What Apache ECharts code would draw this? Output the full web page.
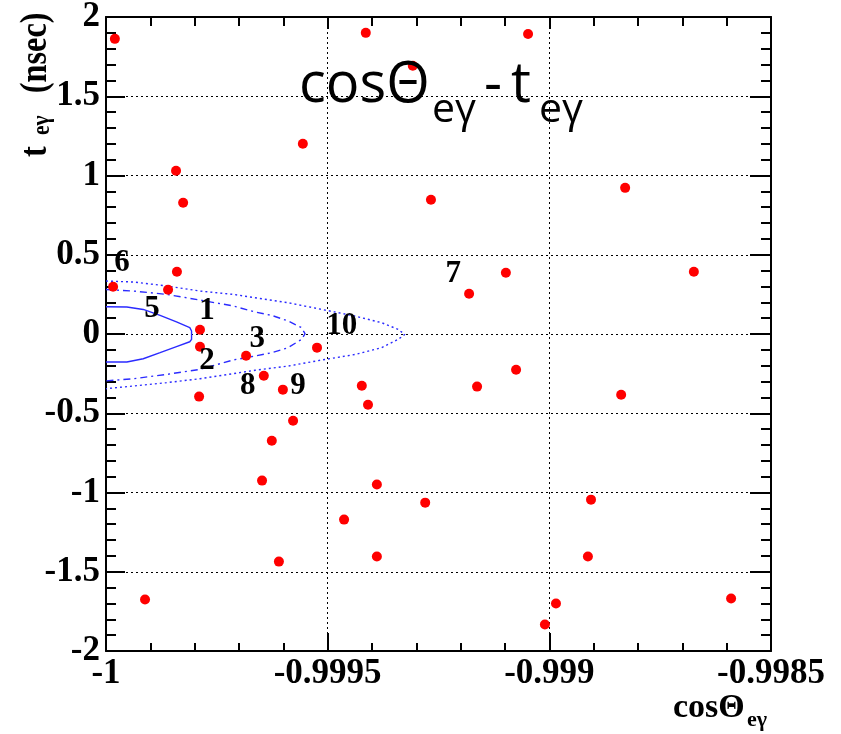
<!DOCTYPE html>
<html><head><meta charset="utf-8">
<script src="https://cdn.jsdelivr.net/npm/echarts@6/dist/echarts.min.js"></script>
<style>html,body{margin:0;padding:0;background:#fff}#c{width:841px;height:734px}</style>
</head><body><div id="c"></div>
<script>
// Events (cosΘ_eγ, t_eγ)
const eventCos = [-0.99998,-0.999414,-0.999048,-0.999308,-0.999556,-0.999842,-0.998829,-0.999826,-0.999267,
  -0.999984,-0.99986,-0.99984,-0.999181,-0.999098,-0.998674,-0.999788,-0.999788,-0.999684,-0.999524,
  -0.999644,-0.999601,-0.99979,-0.999423,-0.999409,-0.999163,-0.999075,-0.998838,-0.999578,-0.999626,
  -0.999648,-0.999389,-0.99928,-0.998906,-0.999463,-0.998913,-0.999389,-0.99961,-0.999912,-0.99859,
  -0.998985,-0.99901];
const eventT = [1.862,1.900,1.893,1.692,1.200,1.030,0.922,0.828,0.847,
  0.298,0.279,0.393,0.254,0.386,0.393,0.027,-0.080,-0.137,-0.086,
  -0.263,-0.351,-0.395,-0.326,-0.446,-0.332,-0.225,-0.383,-0.547,-0.673,
  -0.925,-0.950,-1.064,-1.045,-1.171,-1.404,-1.404,-1.436,-1.675,-1.669,
  -1.700,-1.833];

// Contours
const solidX = [-1,-0.999953,-0.999916,-0.999878,-0.999841,-0.999811,-0.999807,-0.999807,-0.999811,-0.999841,-0.999878,-0.999916,-0.999953,-1];
const solidY = [0.172,0.170,0.155,0.117,0.076,0.040,0.019,-0.034,-0.049,-0.080,-0.118,-0.156,-0.177,-0.177];
const dashDotX = [-1,-0.999938,-0.999863,-0.999788,-0.999713,-0.999664,-0.999626,-0.999589,-0.999559,-0.999551,-0.999559,-0.999589,-0.999626,-0.999664,-0.999713,-0.999788,-0.999863,-0.999938,-1];
const dashDotY = [0.281,0.271,0.250,0.214,0.177,0.139,0.117,0.082,0.040,0.002,-0.034,-0.086,-0.118,-0.139,-0.164,-0.223,-0.255,-0.282,-0.296];
const dottedX = [-1,-0.999938,-0.999863,-0.999788,-0.999713,-0.999664,-0.999589,-0.999513,-0.999438,-0.999378,-0.999341,-0.999326,-0.999341,-0.999378,-0.999438,-0.999513,-0.999589,-0.999664,-0.999713,-0.999788,-0.999863,-0.999938,-1];
const dottedY = [0.334,0.328,0.303,0.271,0.250,0.229,0.197,0.155,0.113,0.071,0.029,-0.003,-0.034,-0.086,-0.129,-0.164,-0.202,-0.229,-0.250,-0.282,-0.307,-0.328,-0.345];

// Event number labels
const labelNames = ['6','5','1','3','2','8','9','10','7'];
const labelX = [-0.999964,-0.999896,-0.999772,-0.999659,-0.999772,-0.99968,-0.999567,-0.999468,-0.999217];
const labelY = [0.45,0.16,0.147,-0.03,-0.168,-0.326,-0.326,0.052,0.38];

const zip = (a, b) => a.map((v, i) => [v, b[i]]);
const serif = '"Liberation Serif","DejaVu Serif",serif';
const fmt = v => String(parseFloat(Number(v).toFixed(4)));

const axisBase = (pos, majorLen, minorLen, showLabel, isX) => ({
  type: 'value',
  position: pos,
  min: isX ? -1 : -2,
  max: isX ? -0.9985 : 2,
  interval: isX ? 0.0005 : 0.5,
  axisLine: { show: true, onZero: false, lineStyle: { color: '#000', width: 2 } },
  axisTick: { show: true, inside: true, length: majorLen, lineStyle: { color: '#000', width: 2 } },
  minorTick: { show: true, splitNumber: 5, length: minorLen, lineStyle: { color: '#000', width: 2 } },
  axisLabel: {
    show: showLabel, color: '#000', fontFamily: serif, fontWeight: 'bold', fontSize: 35,
    margin: isX ? 5 : 6, formatter: fmt
  },
  splitLine: { show: showLabel, lineStyle: { color: '#000', width: 1, type: [2, 3] } },
  minorSplitLine: { show: false }
});

const chart = echarts.init(document.getElementById('c'), null, { renderer: 'canvas' });
chart.setOption({
  animation: false,
  backgroundColor: '#fff',
  grid: { left: 106, right: 70, top: 17, bottom: 83, containLabel: false, outerBoundsMode: 'none' },
  xAxis: [axisBase('bottom', 18, 8, true, true), axisBase('top', 12, 9, false, true)],
  yAxis: [axisBase('left', 19, 10, true, false), axisBase('right', 21, 10, false, false)],
  series: [
    { type: 'line', data: zip(solidX, solidY), showSymbol: false, symbol: 'none', z: 3,
      lineStyle: { color: '#2b2bff', width: 1.4, type: 'solid' } },
    { type: 'line', data: zip(dashDotX, dashDotY), showSymbol: false, symbol: 'none', z: 3,
      lineStyle: { color: '#2b2bff', width: 1.4, type: [7, 4, 2, 4] } },
    { type: 'line', data: zip(dottedX, dottedY), showSymbol: false, symbol: 'none', z: 3,
      lineStyle: { color: '#2b2bff', width: 1.4, type: [2, 3] } },
    { type: 'scatter', data: zip(eventCos, eventT), symbol: 'circle', symbolSize: 10, z: 5,
      itemStyle: { color: '#ff0000', opacity: 1 } },
    { type: 'scatter', z: 6, symbolSize: 1, itemStyle: { color: 'rgba(0,0,0,0)', opacity: 1 },
      emphasis: { disabled: true },
      data: labelNames.map((n, i) => ({ name: n, value: [labelX[i], labelY[i]] })),
      label: { show: true, position: 'inside', formatter: '{b}', color: '#000', opacity: 1,
        fontFamily: serif, fontWeight: 'bold', fontSize: 31 } }
  ],
  graphic: [
    // Title
    { type: 'text', x: 299, y: 86, z: 100, style: { text: 'cosΘ', font: '56px "Open Sans"', fill: '#000', textVerticalAlign: 'middle' } },
    { type: 'text', x: 432, y: 110, z: 100, style: { text: 'eγ', font: '41px "Open Sans"', fill: '#000', textVerticalAlign: 'middle' } },
    { type: 'text', x: 484, y: 86, z: 100, style: { text: '-', font: '56px "Open Sans"', fill: '#000', textVerticalAlign: 'middle' } },
    { type: 'text', x: 511, y: 86, z: 100, style: { text: 't', font: '56px "Open Sans"', fill: '#000', textVerticalAlign: 'middle' } },
    { type: 'text', x: 539, y: 110, z: 100, style: { text: 'eγ', font: '41px "Open Sans"', fill: '#000', textVerticalAlign: 'middle' } },
    // X axis title
    { type: 'text', x: 673, y: 708, z: 100, style: { text: 'cosΘ', font: 'bold 34px ' + serif, fill: '#000', textVerticalAlign: 'middle' } },
    { type: 'text', x: 747, y: 720, z: 100, style: { text: 'eγ', font: 'bold 22px ' + serif, fill: '#000', textVerticalAlign: 'middle' } },
    // Y axis title (rotated)
    { type: 'group', x: 47, y: 157, rotation: Math.PI / 2, scaleX: 0.85, z: 100, children: [
      { type: 'text', x: 0, y: -11, style: { text: 't', font: 'bold 38px ' + serif, fill: '#000', textVerticalAlign: 'middle' } },
      { type: 'text', x: 26, y: -4.5, style: { text: 'eγ', font: 'bold 25px ' + serif, fill: '#000', textVerticalAlign: 'middle' } },
      { type: 'text', x: 75, y: -11, style: { text: '(nsec)', font: 'bold 38px ' + serif, fill: '#000', textVerticalAlign: 'middle' } }
    ] }
  ]
});
</script>
</body></html>
